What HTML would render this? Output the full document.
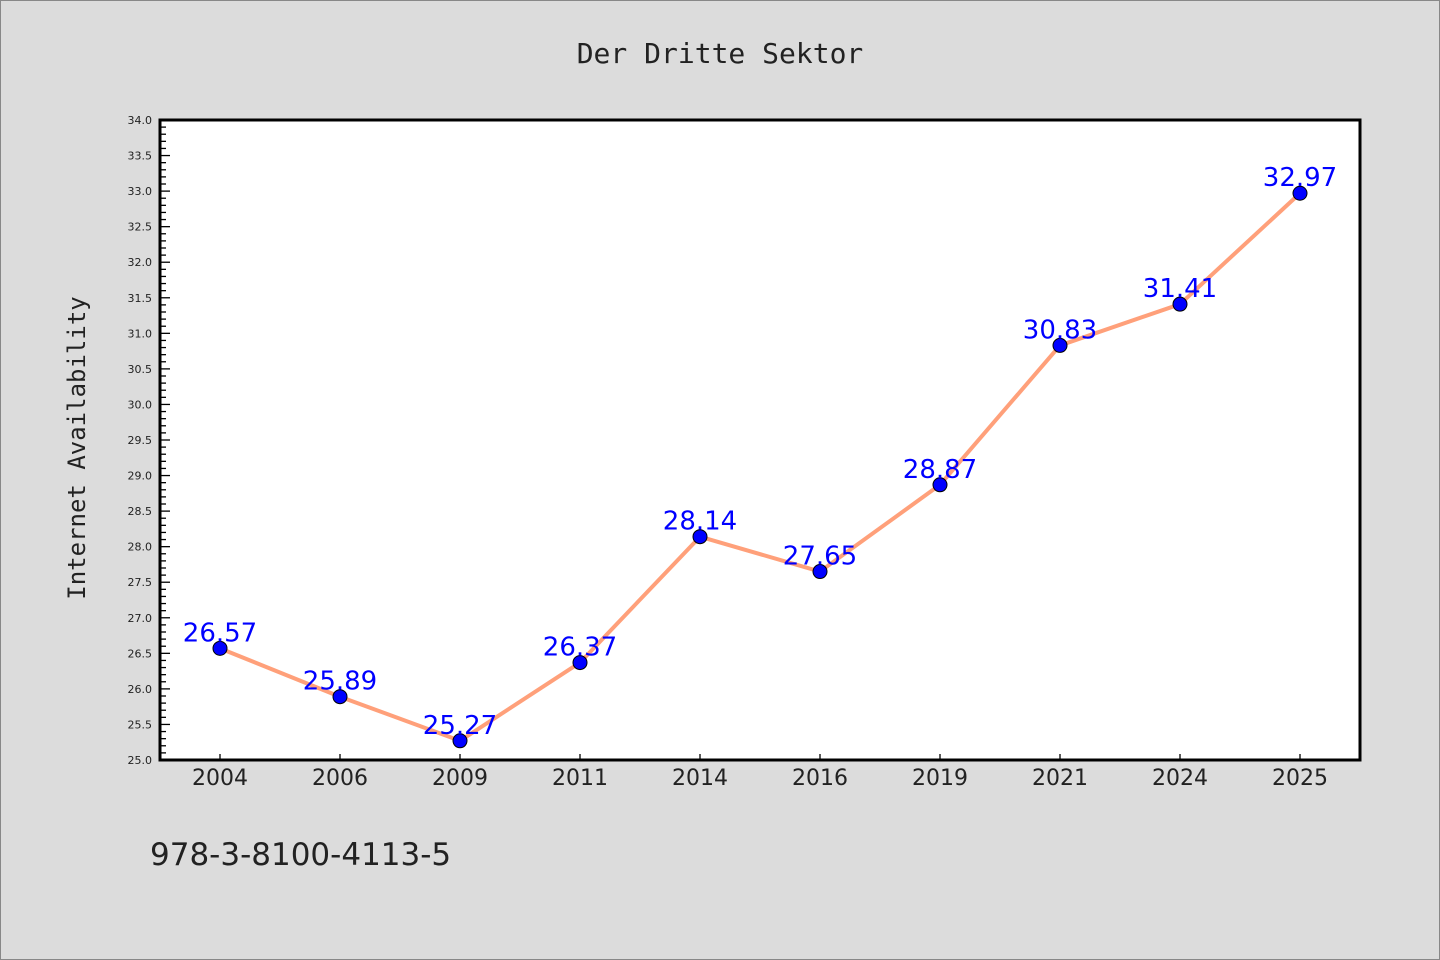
<!DOCTYPE html>
<html><head><meta charset="utf-8"><style>
html,body{margin:0;padding:0;background:#dcdcdc;}
svg{display:block;}
</style></head><body>
<svg id="chart" width="1440" height="960" xmlns="http://www.w3.org/2000/svg">
<rect x="0.5" y="0.5" width="1439" height="959" fill="#dcdcdc" stroke="#888"/>
<text x="720" y="63" text-anchor="middle" font-family="DejaVu Sans Mono, Liberation Mono, monospace" font-size="28" fill="#222">Der Dritte Sektor</text>
<rect x="160" y="120" width="1200" height="640" fill="#fff"/>
<g id="yaxis"></g>
<g id="xaxis"></g>
<g id="series"></g>
<rect x="160" y="120" width="1200" height="640" fill="none" stroke="#000" stroke-width="3"/>
<text transform="translate(85,448) rotate(-90)" text-anchor="middle" font-family="DejaVu Sans Mono, Liberation Mono, monospace" font-size="24" fill="#222">Internet Availability</text>
<text x="150" y="865" font-family="DejaVu Sans, Liberation Sans, sans-serif" font-size="31" fill="#222">978-3-8100-4113-5</text>
</svg>
<script>
const categories = ["2004","2006","2009","2011","2014","2016","2019","2021","2024","2025"];
const values = [26.57,25.89,25.27,26.37,28.14,27.65,28.87,30.83,31.41,32.97];
const valueLabels = ["26.57","25.89","25.27","26.37","28.14","27.65","28.87","30.83","31.41","32.97"];
const yMin = 25, yMax = 34;
const NS = "http://www.w3.org/2000/svg";
const L = 160, R = 1360, T = 120, B = 760;
const band = (R - L) / categories.length;
function xPos(i){ return L + band * (i + 0.5); }
function yPos(v){ return B - (v - yMin) / (yMax - yMin) * (B - T); }
function mk(tag, attrs, parent){ const e = document.createElementNS(NS, tag); for (const k in attrs) e.setAttribute(k, attrs[k]); parent.appendChild(e); return e; }
const ya = document.getElementById('yaxis');
for (let k = 0; k <= Math.round((yMax - yMin) * 10); k++) {
  const v = yMin + k / 10, y = yPos(v), major = k % 5 === 0;
  const t = mk('line', {x1: L, x2: L + (major ? 10 : 6), y1: y, y2: y, stroke: '#000', 'stroke-width': 1.3}, ya);
  
  
  if (major) {
    const lb = mk('text', {x: L - 8, y: y + 4, 'text-anchor': 'end', 'font-family': 'DejaVu Sans, Liberation Sans, sans-serif', 'font-size': 11, fill: '#222'}, ya);
    lb.textContent = v.toFixed(1);
    
    
  }
}
const xa = document.getElementById('xaxis');
categories.forEach((c, i) => {
  const x = xPos(i);
  const t = mk('line', {x1: x, x2: x, y1: B, y2: B - 6, stroke: '#000', 'stroke-width': 1.3}, xa);
  
  
  const lb = mk('text', {x: x, y: B + 25, 'text-anchor': 'middle', 'font-family': 'DejaVu Sans, Liberation Sans, sans-serif', 'font-size': 22, fill: '#222'}, xa);
  lb.textContent = c;
  
  
});
const s = document.getElementById('series');
const line = mk('polyline', {points: values.map((v, i) => xPos(i) + ',' + yPos(v)).join(' '), fill: 'none', stroke: '#ffa07a', 'stroke-width': 4, 'stroke-linejoin': 'round'}, s);


values.forEach((v, i) => {
  const x = xPos(i), y = yPos(v);
  const p = mk('circle', {cx: x, cy: y, r: 7, fill: '#0000ff', stroke: '#000', 'stroke-width': 1}, s);
  
  
  const lb = mk('text', {x: x, y: y + 1 - 8, 'text-anchor': 'middle', 'font-family': 'DejaVu Sans, Liberation Sans, sans-serif', 'font-size': 26, fill: '#0000ff'}, s);
  lb.textContent = valueLabels[i];
  
  
});
</script>
</body></html>
